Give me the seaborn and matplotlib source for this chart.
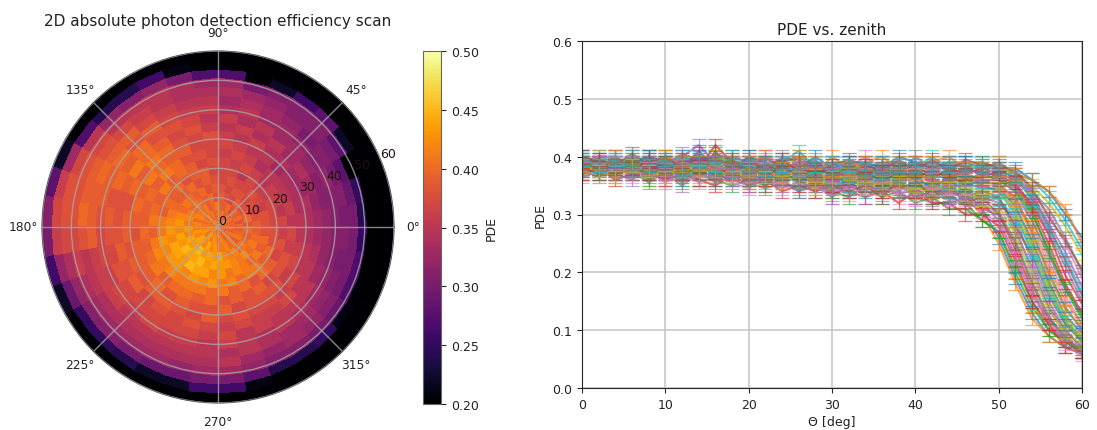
import numpy as np
import pandas as pd
import matplotlib
matplotlib.use('Agg')
import matplotlib.pyplot as plt
import seaborn as sns

# PDE per ring (3 deg wide), 36 azimuth sectors of 10 deg starting at 0 deg
ring_00 = [.40,.41,.39,.40,.41,.39,.40,.42,.40,.39,.41,.40,.42,.40,.41,.39,.41,.40,.42,.41,.40,.42,.41,.40,.42,.41,.40,.41,.39,.41,.40,.42,.39,.40,.41,.39]
ring_03 = [.39,.40,.39,.41,.38,.40,.39,.41,.40,.40,.39,.41,.40,.42,.40,.41,.40,.41,.41,.42,.43,.41,.42,.43,.41,.43,.42,.40,.42,.41,.39,.41,.40,.41,.39,.40]
ring_06 = [.40,.38,.40,.39,.40,.38,.40,.39,.39,.41,.40,.39,.41,.40,.41,.42,.40,.42,.41,.43,.42,.44,.43,.42,.44,.42,.43,.41,.41,.42,.40,.41,.39,.41,.40,.39]
ring_09 = [.38,.40,.39,.38,.38,.39,.37,.38,.39,.38,.40,.39,.40,.41,.40,.41,.42,.41,.43,.42,.44,.43,.44,.45,.43,.44,.43,.44,.42,.41,.42,.40,.41,.40,.39,.40]
ring_12 = [.39,.38,.37,.38,.37,.38,.38,.37,.38,.39,.38,.40,.39,.40,.41,.40,.42,.43,.42,.44,.43,.45,.44,.44,.45,.43,.44,.43,.43,.42,.41,.42,.40,.41,.40,.39]
ring_15 = [.38,.38,.36,.37,.38,.37,.37,.38,.37,.38,.39,.38,.40,.39,.39,.40,.41,.42,.43,.42,.44,.44,.43,.45,.44,.44,.42,.43,.41,.42,.41,.40,.41,.39,.40,.38]
ring_18 = [.37,.37,.37,.36,.36,.37,.35,.37,.37,.37,.39,.39,.38,.40,.39,.40,.39,.41,.41,.43,.42,.43,.43,.42,.43,.42,.43,.41,.42,.40,.41,.41,.39,.40,.38,.38]
ring_21 = [.37,.35,.36,.36,.35,.36,.37,.36,.37,.38,.37,.39,.40,.39,.41,.39,.40,.41,.39,.41,.42,.41,.42,.41,.41,.41,.40,.41,.39,.40,.38,.40,.39,.37,.38,.36]
ring_24 = [.35,.36,.35,.35,.35,.34,.36,.37,.36,.37,.38,.38,.40,.41,.39,.40,.39,.39,.40,.39,.40,.41,.39,.40,.40,.39,.40,.38,.39,.38,.39,.37,.38,.38,.36,.37]
ring_27 = [.35,.34,.34,.34,.33,.35,.35,.36,.37,.37,.37,.39,.39,.40,.41,.39,.40,.39,.38,.39,.39,.39,.40,.38,.39,.38,.38,.39,.37,.38,.38,.38,.36,.37,.36,.35]
ring_30 = [.34,.34,.33,.33,.34,.34,.36,.35,.36,.38,.37,.38,.40,.41,.39,.40,.38,.39,.39,.38,.39,.38,.39,.39,.38,.37,.39,.37,.38,.37,.37,.36,.37,.35,.35,.34]
ring_33 = [.33,.32,.33,.34,.33,.35,.34,.36,.35,.36,.38,.37,.39,.40,.41,.39,.38,.38,.38,.39,.38,.39,.37,.38,.37,.38,.37,.36,.37,.36,.36,.37,.35,.35,.34,.33]
ring_36 = [.32,.31,.31,.32,.33,.33,.35,.34,.36,.35,.37,.38,.38,.40,.39,.40,.38,.39,.38,.37,.38,.37,.37,.37,.37,.37,.36,.37,.35,.36,.35,.35,.35,.33,.32,.32]
ring_39 = [.31,.31,.32,.31,.32,.33,.33,.35,.34,.36,.36,.37,.39,.38,.40,.39,.39,.38,.37,.37,.36,.37,.36,.37,.36,.36,.35,.36,.35,.34,.35,.34,.33,.32,.31,.31]
ring_42 = [.30,.31,.30,.31,.30,.32,.33,.34,.33,.35,.35,.36,.37,.39,.39,.40,.39,.39,.39,.36,.36,.36,.35,.35,.35,.35,.35,.34,.35,.34,.33,.33,.32,.31,.30,.31]
ring_45 = [.30,.29,.28,.30,.31,.31,.32,.33,.34,.34,.34,.35,.36,.37,.38,.39,.39,.40,.38,.35,.35,.34,.34,.34,.34,.34,.34,.35,.33,.32,.33,.32,.31,.30,.30,.30]
ring_48 = [.24,.25,.20,.28,.31,.31,.31,.30,.33,.33,.34,.35,.35,.35,.37,.38,.38,.38,.37,.36,.34,.33,.33,.33,.33,.32,.33,.33,.32,.31,.31,.30,.29,.27,.27,.25]
ring_51 = [.20,.20,.20,.22,.28,.26,.22,.20,.27,.27,.30,.32,.31,.32,.35,.37,.38,.38,.37,.34,.32,.31,.31,.30,.29,.29,.30,.30,.28,.24,.24,.25,.21,.20,.20,.20]
ring_54 = [.20,.20,.20,.20,.20,.20,.20,.20,.20,.20,.21,.26,.24,.24,.27,.33,.36,.37,.36,.32,.29,.25,.25,.24,.22,.22,.26,.26,.21,.20,.20,.20,.20,.20,.20,.20]
ring_57 = [.20,.20,.20,.20,.20,.20,.20,.20,.20,.20,.20,.20,.20,.20,.20,.22,.28,.31,.30,.26,.22,.20,.20,.20,.20,.20,.20,.20,.20,.20,.20,.20,.20,.20,.20,.20]
ring_edges = [0,3,6,9,12,15,18,21,24,27,30,33,36,39,42,45,48,51,54,57,60]

theta_deg = [0,2,4,6,8,10,12,14,16,18,20,22,24,26,28,30,32,34,36,38,40,42,44,46,48,50,52,54,56,58,60]
pde_err = [.011,.011,.011,.011,.011,.011,.011,.011,.011,.011,.011,.011,.011,.011,.011,.011,.011,.011,.011,.011,.011,.011,.011,.011,.011,.011,.011,.011,.010,.009,.008]

curve_01 = [.39,.38,.39,.38,.40,.39,.38,.39,.40,.39,.38,.39,.38,.39,.38,.37,.38,.38,.37,.38,.38,.37,.36,.34,.31,.26,.19,.13,.09,.07,.06]
curve_02 = [.38,.39,.38,.37,.38,.38,.39,.37,.38,.38,.37,.38,.37,.38,.36,.37,.37,.38,.36,.37,.36,.36,.35,.33,.30,.25,.18,.12,.09,.07,.06]
curve_03 = [.37,.38,.38,.39,.37,.38,.37,.38,.37,.36,.38,.37,.36,.36,.37,.36,.35,.36,.37,.35,.35,.34,.33,.32,.29,.27,.20,.14,.10,.08,.065]
curve_04 = [.40,.39,.38,.39,.39,.37,.39,.38,.39,.37,.37,.36,.38,.37,.36,.35,.37,.36,.34,.35,.34,.35,.34,.33,.31,.30,.24,.17,.11,.08,.06]
curve_05 = [.38,.37,.39,.38,.38,.39,.38,.40,.38,.38,.39,.37,.37,.36,.37,.36,.36,.35,.36,.34,.36,.35,.33,.34,.32,.29,.23,.16,.12,.08,.07]
curve_06 = [.39,.39,.37,.38,.37,.38,.40,.39,.39,.37,.36,.38,.36,.37,.35,.34,.36,.37,.35,.36,.33,.34,.35,.32,.33,.30,.25,.18,.12,.09,.06]
curve_07 = [.37,.39,.38,.37,.39,.37,.37,.38,.36,.39,.37,.36,.35,.37,.36,.33,.35,.34,.36,.33,.33,.32,.32,.32,.32,.33,.28,.20,.14,.09,.07]
curve_08 = [.39,.38,.37,.39,.38,.36,.38,.37,.38,.38,.36,.37,.35,.35,.37,.35,.34,.35,.34,.35,.34,.33,.34,.33,.33,.33,.27,.21,.14,.10,.07]
curve_09 = [.40,.38,.39,.37,.36,.38,.39,.39,.37,.37,.39,.36,.36,.38,.35,.36,.37,.36,.35,.37,.35,.34,.36,.35,.34,.34,.31,.25,.17,.12,.08]
curve_10 = [.38,.40,.39,.38,.37,.39,.36,.38,.39,.36,.38,.38,.37,.36,.38,.37,.35,.34,.37,.36,.37,.36,.34,.36,.35,.34,.30,.24,.18,.11,.09]
curve_11 = [.38,.38,.40,.38,.39,.40,.38,.41,.38,.38,.37,.39,.38,.39,.37,.38,.36,.38,.36,.38,.36,.37,.37,.35,.36,.35,.33,.27,.20,.14,.10]
curve_12 = [.39,.37,.38,.40,.38,.38,.37,.39,.37,.39,.38,.37,.39,.38,.36,.36,.38,.37,.38,.36,.38,.35,.36,.37,.35,.35,.32,.28,.21,.15,.11]
curve_13 = [.37,.39,.39,.39,.40,.37,.38,.36,.41,.37,.39,.39,.38,.37,.38,.38,.37,.37,.36,.37,.37,.36,.38,.36,.37,.36,.34,.30,.24,.17,.12]
curve_14 = [.40,.39,.37,.38,.38,.39,.39,.38,.42,.39,.38,.38,.37,.39,.39,.37,.38,.36,.38,.38,.38,.37,.37,.37,.36,.36,.35,.31,.25,.18,.13]
curve_15 = [.39,.40,.40,.37,.39,.38,.40,.42,.39,.40,.39,.40,.38,.38,.37,.39,.37,.39,.37,.37,.39,.38,.36,.38,.37,.37,.35,.32,.27,.21,.15]
curve_16 = [.38,.38,.38,.40,.37,.40,.38,.39,.40,.38,.40,.38,.39,.40,.38,.37,.39,.38,.39,.39,.38,.39,.38,.37,.38,.37,.36,.33,.28,.22,.16]
curve_17 = [.40,.37,.39,.39,.39,.38,.39,.40,.38,.39,.38,.40,.39,.37,.39,.38,.38,.40,.38,.38,.39,.37,.39,.38,.37,.38,.36,.34,.30,.25,.19]
curve_18 = [.39,.39,.40,.38,.40,.39,.37,.38,.39,.40,.39,.37,.40,.39,.38,.39,.39,.37,.39,.37,.40,.38,.38,.39,.38,.38,.37,.34,.31,.26,.20]
curve_19 = [.38,.40,.38,.39,.38,.40,.39,.37,.40,.39,.37,.39,.38,.40,.39,.38,.37,.39,.38,.39,.37,.39,.39,.38,.39,.38,.37,.35,.32,.28,.23]
curve_20 = [.39,.38,.39,.40,.39,.39,.40,.39,.38,.40,.38,.38,.39,.41,.38,.39,.38,.38,.39,.38,.38,.40,.38,.39,.38,.39,.37,.36,.33,.29,.24]
curve_21 = [.40,.39,.38,.39,.40,.38,.38,.40,.39,.37,.40,.39,.37,.38,.40,.38,.39,.39,.38,.40,.39,.38,.39,.39,.39,.38,.38,.36,.34,.30,.26]
curve_22 = [.37,.38,.40,.38,.38,.40,.39,.39,.37,.38,.39,.40,.38,.39,.37,.40,.38,.39,.40,.38,.39,.39,.40,.38,.38,.39,.37,.36,.34,.31,.25]
curve_23 = [.38,.37,.37,.38,.36,.37,.36,.37,.36,.35,.36,.35,.36,.34,.36,.34,.33,.35,.33,.34,.32,.33,.31,.31,.29,.27,.21,.15,.10,.08,.06]
curve_24 = [.37,.38,.36,.37,.37,.36,.37,.36,.35,.37,.35,.36,.34,.35,.34,.35,.34,.33,.34,.32,.34,.32,.32,.30,.30,.28,.22,.15,.11,.07,.06]
curve_25 = [.38,.39,.37,.36,.38,.37,.35,.37,.37,.36,.35,.37,.36,.34,.35,.33,.36,.33,.35,.35,.33,.35,.33,.34,.33,.32,.29,.22,.15,.10,.07]
curve_26 = [.39,.37,.38,.38,.37,.39,.37,.36,.36,.38,.37,.35,.37,.36,.34,.36,.34,.35,.33,.36,.36,.33,.35,.33,.34,.33,.28,.23,.16,.11,.08]
curve_27 = [.38,.39,.39,.39,.38,.37,.38,.38,.39,.37,.38,.38,.36,.38,.36,.37,.36,.37,.37,.35,.37,.36,.35,.36,.36,.35,.33,.29,.22,.16,.11]
curve_28 = [.39,.38,.38,.37,.39,.38,.39,.37,.38,.39,.37,.39,.37,.37,.38,.36,.38,.36,.37,.38,.36,.38,.37,.35,.37,.36,.34,.29,.23,.17,.13]
curve_29 = [.385,.375,.395,.385,.375,.385,.395,.375,.385,.365,.385,.375,.365,.375,.355,.375,.355,.365,.345,.365,.355,.345,.345,.335,.325,.315,.265,.195,.135,.095,.075]
curve_30 = [.395,.385,.375,.395,.385,.395,.375,.385,.375,.385,.365,.355,.375,.355,.375,.345,.365,.345,.365,.345,.345,.355,.335,.345,.335,.325,.295,.235,.165,.115,.085]
curve_31 = [.375,.395,.385,.375,.395,.375,.385,.395,.365,.375,.385,.365,.385,.365,.365,.385,.345,.375,.355,.375,.365,.345,.365,.355,.345,.345,.315,.255,.185,.125,.095]
curve_32 = [.385,.385,.365,.385,.385,.365,.395,.365,.395,.385,.355,.385,.355,.385,.375,.355,.375,.355,.345,.355,.375,.355,.355,.365,.355,.355,.325,.265,.195,.135,.105]
curve_33 = [.395,.375,.385,.395,.365,.385,.365,.385,.385,.395,.375,.385,.375,.355,.385,.365,.385,.365,.385,.365,.365,.375,.365,.365,.365,.365,.345,.305,.235,.175,.125]
curve_34 = [.385,.395,.375,.375,.395,.395,.385,.405,.375,.375,.395,.375,.395,.375,.375,.375,.365,.385,.375,.375,.375,.365,.375,.375,.375,.365,.355,.315,.265,.195,.145]
curve_35 = [.375,.385,.395,.385,.375,.385,.405,.395,.395,.385,.385,.395,.385,.385,.395,.365,.375,.375,.385,.385,.385,.385,.385,.385,.365,.375,.365,.335,.285,.235,.175]
curve_36 = [.395,.395,.385,.405,.385,.375,.395,.385,.405,.395,.375,.385,.395,.395,.375,.385,.395,.385,.375,.395,.375,.395,.375,.395,.385,.385,.375,.345,.295,.255,.205]
curve_37 = [.365,.375,.375,.365,.375,.355,.375,.355,.365,.355,.345,.365,.345,.355,.345,.345,.335,.345,.345,.335,.325,.335,.325,.325,.305,.285,.225,.165,.115,.075,.055]
curve_38 = [.375,.365,.385,.375,.355,.375,.355,.375,.355,.375,.355,.345,.355,.345,.355,.335,.345,.355,.335,.345,.345,.325,.335,.315,.315,.305,.255,.185,.125,.085,.065]
curve_39 = [.385,.375,.365,.385,.375,.365,.385,.375,.375,.365,.375,.365,.355,.365,.345,.365,.365,.345,.355,.355,.335,.345,.345,.345,.325,.345,.305,.245,.175,.125,.085]
curve_40 = [.395,.385,.395,.375,.385,.395,.375,.395,.385,.375,.395,.385,.385,.375,.385,.375,.385,.375,.365,.385,.385,.375,.385,.375,.385,.375,.365,.325,.275,.225,.165]
curves = [curve_01,curve_02,curve_03,curve_04,curve_05,curve_06,curve_07,curve_08,curve_09,curve_10,
          curve_11,curve_12,curve_13,curve_14,curve_15,curve_16,curve_17,curve_18,curve_19,curve_20,
          curve_21,curve_22,curve_23,curve_24,curve_25,curve_26,curve_27,curve_28,curve_29,curve_30,
          curve_31,curve_32,curve_33,curve_34,curve_35,curve_36,curve_37,curve_38,curve_39,curve_40]

sns.set_style('ticks')
plt.rcParams['font.family'] = ['DejaVu Sans']
plt.rcParams['text.color'] = '#222222'
plt.rcParams['axes.labelcolor'] = '#222222'
plt.rcParams['xtick.labelcolor'] = '#222222'
plt.rcParams['ytick.labelcolor'] = '#222222'
plt.rcParams['xtick.major.size'] = 3.5
plt.rcParams['ytick.major.size'] = 3.5

fig = plt.figure(figsize=(10.97, 4.31), dpi=100)
W, H = 1097.0, 431.0

# polar map
ax1 = fig.add_axes([42/W, 1-404/H, 352/W, 352/H], projection='polar')
table = np.array([ring_00,ring_03,ring_06,ring_09,ring_12,ring_15,ring_18,ring_21,ring_24,ring_27,
                  ring_30,ring_33,ring_36,ring_39,ring_42,ring_45,ring_48,ring_51,ring_54,ring_57])
az_edges = np.deg2rad(np.arange(0, 361, 10))
cmap = sns.color_palette('inferno', as_cmap=True)
mesh = ax1.pcolormesh(az_edges, ring_edges, table, cmap=cmap, vmin=0.2, vmax=0.5, shading='flat',
                      edgecolors='face', lw=0.2)
ax1.set_axisbelow(False)
ax1.set_ylim(0, 60)
ax1.set_yticks([0,10,20,30,40,50,60])
ax1.set_yticklabels(['0','10','20','30','40','50','60'], fontsize=9, color='#201010')
ax1.set_rlabel_position(22.5)
ax1.tick_params(axis='x', labelsize=8.8, pad=3)
ax1.grid(True, color='#a8a8a8', lw=1, alpha=0.8)
ax1.spines['polar'].set_color('#444444')
ax1.set_title('2D absolute photon detection efficiency scan', fontsize=11, y=1.05)

cax = fig.add_axes([423/W, 1-405/H, 18/W, 353/H])
cb = fig.colorbar(mesh, cax=cax)
cb.set_label('PDE', fontsize=9)
cb.set_ticks([.2,.25,.3,.35,.4,.45,.5])
cb.set_ticklabels(['0.20','0.25','0.30','0.35','0.40','0.45','0.50'])
cb.ax.tick_params(labelsize=9)
cb.outline.set_edgecolor('#666666')

# zenith curves
ax2 = fig.add_axes([582/W, 1-389/H, 500/W, 347/H])
rows = []
for i, c in enumerate(curves):
    rows.append(pd.DataFrame({'theta': theta_deg, 'pde': c, 'curve': i}))
long_df = pd.concat(rows)
palette = sns.color_palette('tab10', 10)
colors = [palette[i % 10] for i in range(len(curves))]
ax2.set_axisbelow(True)
ax2.grid(True, color='#c4c4c4', lw=1.1)
sns.lineplot(data=long_df, x='theta', y='pde', hue='curve', palette=colors, legend=False,
             lw=1.5, alpha=0.7, errorbar=None, ax=ax2)
for c, col in zip(curves, colors):
    ax2.errorbar(theta_deg, c, yerr=pde_err, fmt='none', ecolor=col, elinewidth=0.9,
                 capsize=5, capthick=0.9, alpha=0.6)
ax2.set_xlim(0, 60)
ax2.set_ylim(0, 0.6)
ax2.set_xticks([0,10,20,30,40,50,60])
ax2.set_yticks([0,.1,.2,.3,.4,.5,.6])
ax2.tick_params(labelsize=9)
ax2.set_xlabel('\u0398 [deg]', fontsize=9, labelpad=3)
ax2.set_ylabel('PDE', fontsize=9)
ax2.set_title('PDE vs. zenith', fontsize=11, pad=5)

fig.savefig('out.png', dpi=100)
